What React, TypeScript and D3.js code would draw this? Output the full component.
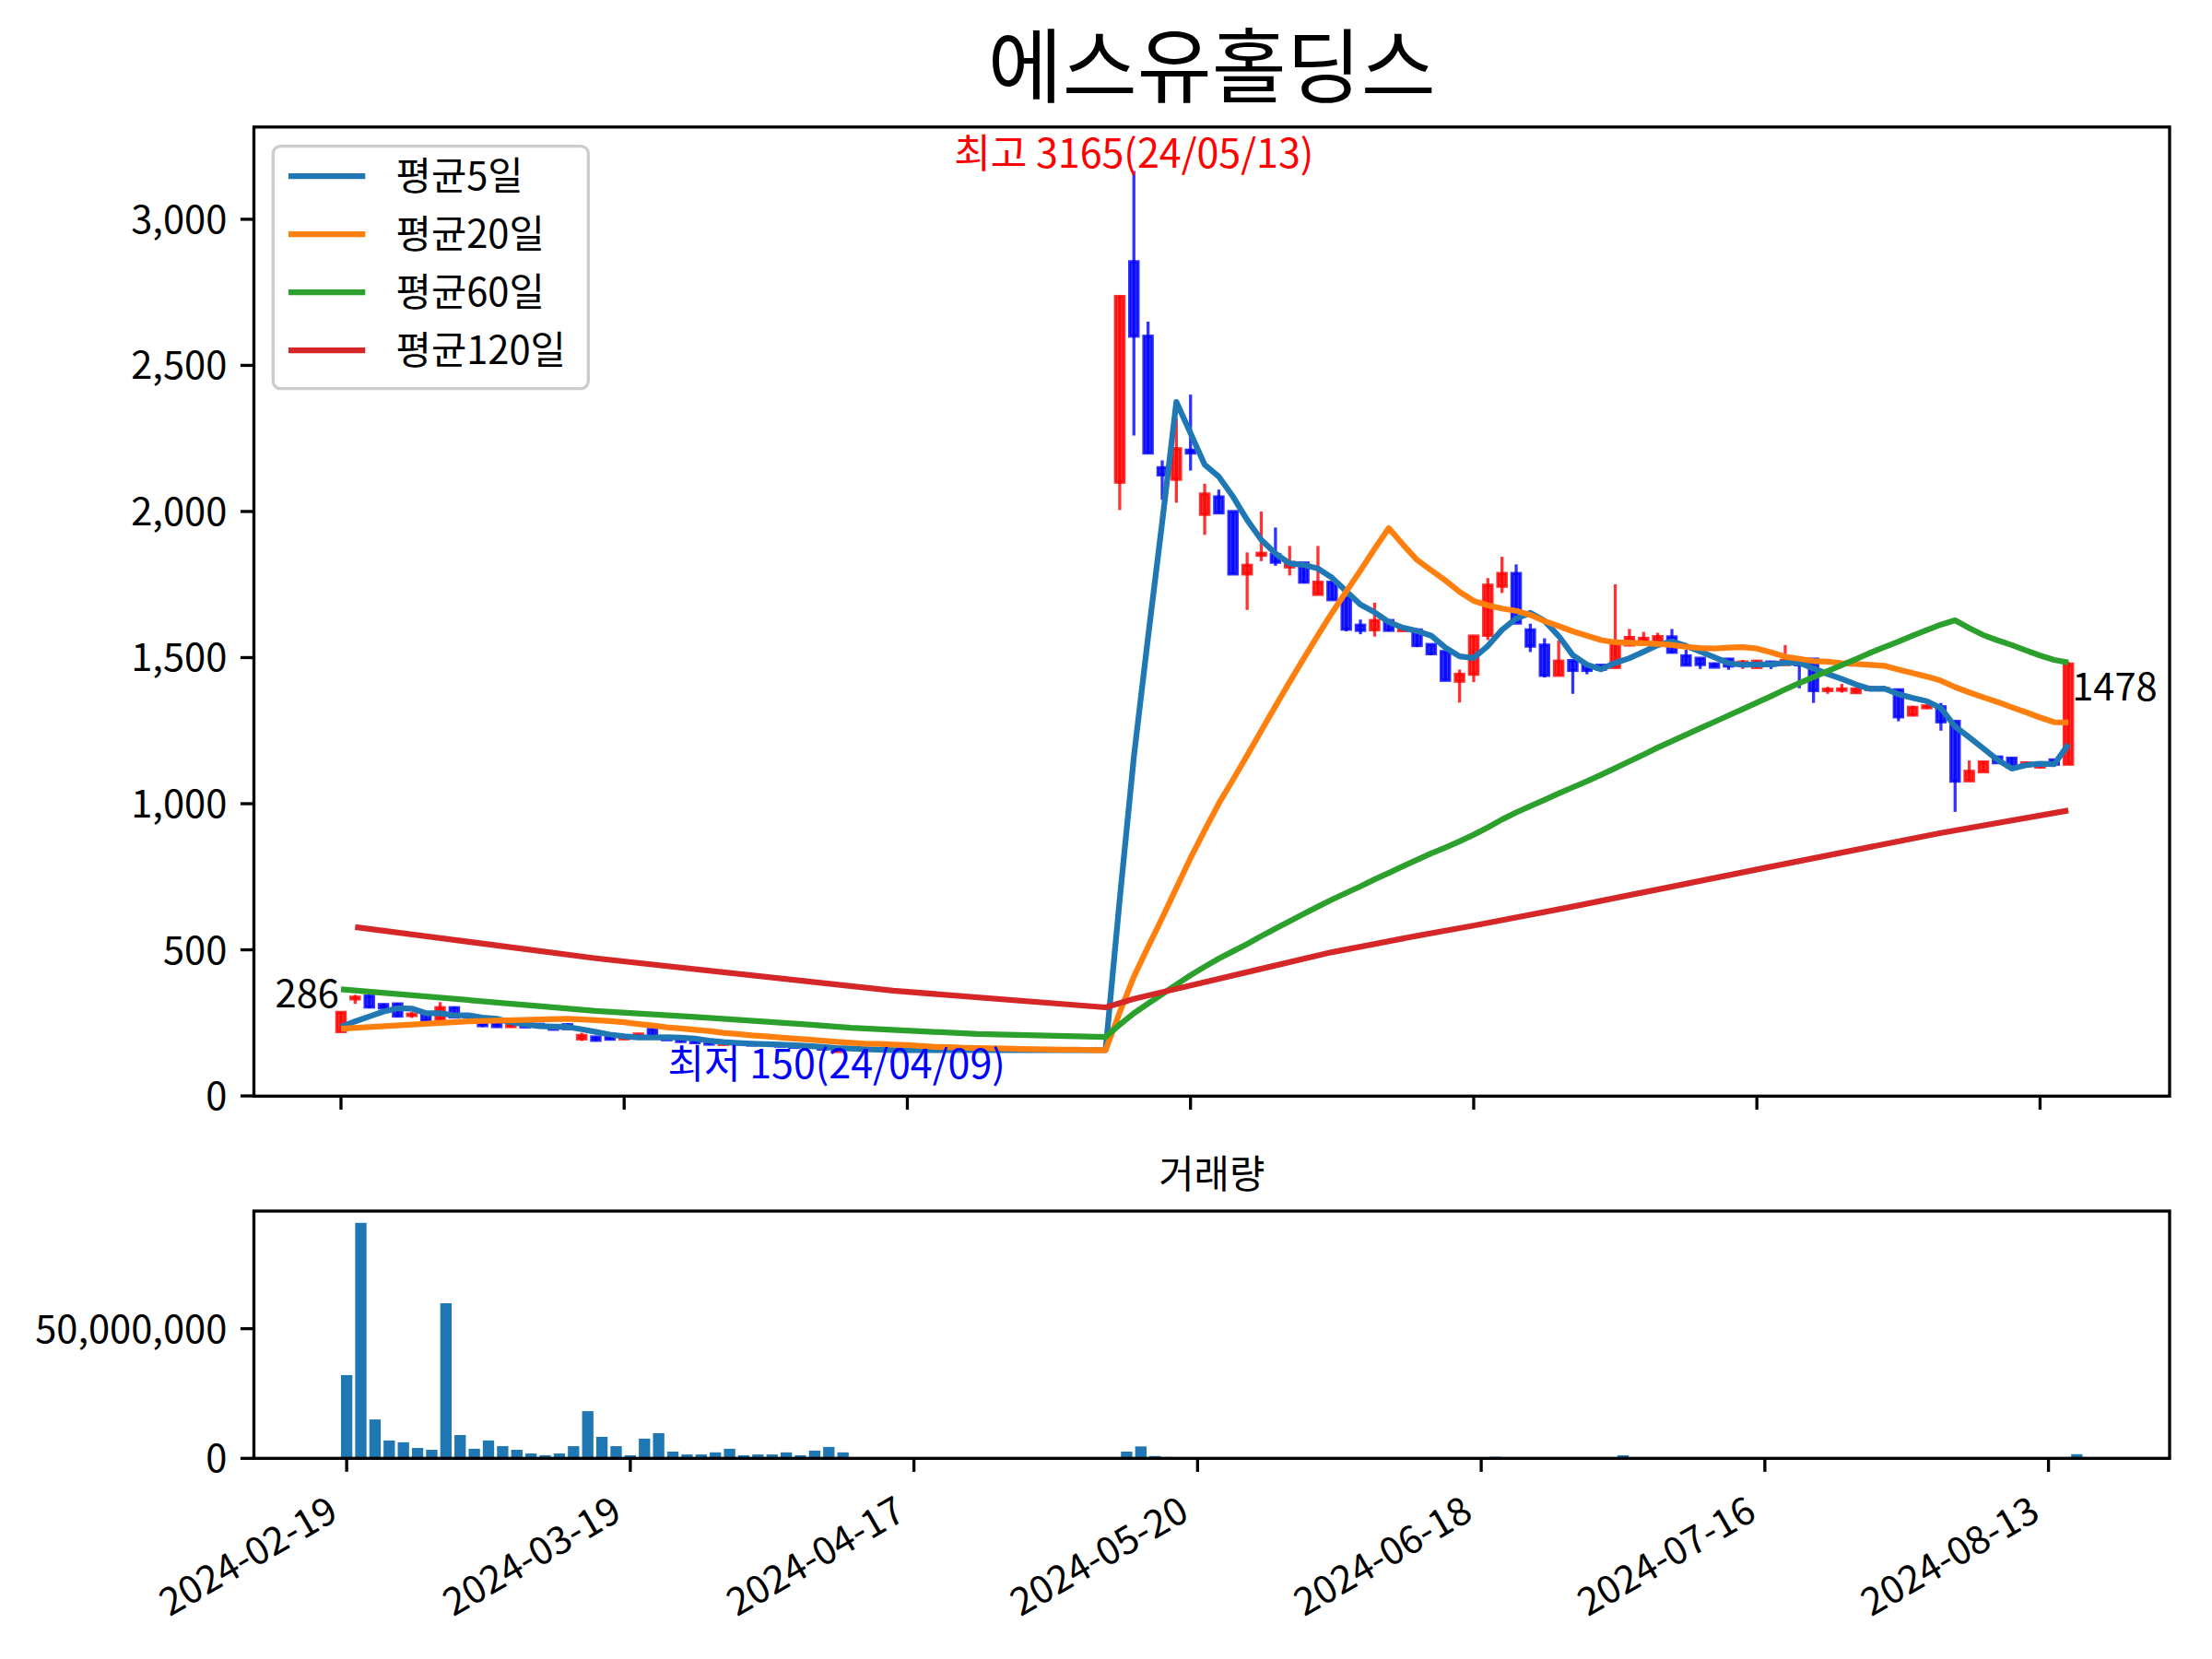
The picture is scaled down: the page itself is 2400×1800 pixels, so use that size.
import React from 'react';
import * as d3 from 'd3';

// ---------------- data ----------------
const chartTitle = '에스유홀딩스';
const volumeTitle = '거래량';
const legendLabels = ['평균5일', '평균20일', '평균60일', '평균120일'];
const maColors = ['#1f77b4', '#ff7f0e', '#2ca02c', '#d62728'];

const xTickIdx = [0, 20, 40, 60, 80, 100, 120];
const xTickLabels = ['2024-02-19', '2024-03-19', '2024-04-17', '2024-05-20', '2024-06-18', '2024-07-16', '2024-08-13'];
const yTicks = [0, 500, 1000, 1500, 2000, 2500, 3000];
const volTicks = [0, 50];

const maxDate = '24/05/13';
const minDate = '24/04/09';

const N = null;
// trading days 0..122 ; 36..54 suspended (no candle)
const openP: (number | null)[] = [
  220, 332, 342, 313, 315, 275, 280, 262, 302, 275,
  248, 248, 237, 248, 245, 239, 244, 195, 202, 202,
  195, 207, 228, 200, 193, 186, 186, 176, 182, 178,
  174, 176, 170, 166, 168, 152, N, N, N, N,
  N, N, N, N, N, N, N, N, N, N,
  N, N, N, N, N, 2100, 2855, 2600, 2150, 2110,
  2210, 1990, 2050, 2000, 1786, 1850, 1853, 1810, 1824, 1716,
  1758, 1706, 1611, 1595, 1627, 1592, 1595, 1545, 1521, 1419,
  1443, 1576, 1744, 1788, 1595, 1543, 1439, 1490, 1474, 1474,
  1466, 1543, 1555, 1555, 1571, 1506, 1498, 1479, 1495, 1477,
  1466, 1485, 1476, 1485, 1495, 1387, 1388, 1380, 1390, 1390,
  1390, 1303, 1328, 1332, 1282, 1078, 1109, 1160, 1156, 1133,
  1125, 1150, 1135,
];
const highP: (number | null)[] = [
  288, 346, 345, 316, 318, 288, 282, 321, 305, 280,
  249, 250, 246, 250, 247, 241, 249, 216, 203, 204,
  203, 214, 231, 202, 195, 188, 188, 185, 184, 180,
  178, 177, 172, 170, 169, 160, N, N, N, N,
  N, N, N, N, N, N, N, N, N, N,
  N, N, N, N, N, 2736, 3165, 2650, 2175, 2320,
  2400, 2095, 2075, 2000, 1860, 2000, 1945, 1882, 1826, 1882,
  1758, 1706, 1630, 1688, 1627, 1602, 1595, 1545, 1521, 1459,
  1574, 1772, 1845, 1819, 1616, 1566, 1558, 1490, 1474, 1474,
  1751, 1598, 1588, 1585, 1598, 1527, 1498, 1482, 1497, 1492,
  1490, 1488, 1543, 1488, 1495, 1400, 1410, 1395, 1404, 1396,
  1392, 1335, 1338, 1345, 1282, 1148, 1145, 1162, 1158, 1145,
  1135, 1152, 1485,
];
const lowP: (number | null)[] = [
  218, 315, 300, 299, 270, 267, 255, 260, 268, 265,
  236, 235, 234, 234, 238, 226, 228, 188, 188, 192,
  193, 205, 205, 190, 184, 180, 175, 174, 176, 172,
  170, 168, 164, 162, 158, 150, N, N, N, N,
  N, N, N, N, N, N, N, N, N, N,
  N, N, N, N, N, 2005, 2260, 2200, 2040, 2030,
  2140, 1920, 1995, 1786, 1663, 1830, 1814, 1781, 1755, 1716,
  1698, 1590, 1580, 1572, 1590, 1590, 1536, 1508, 1422, 1346,
  1416, 1560, 1721, 1618, 1519, 1432, 1439, 1376, 1443, 1456,
  1466, 1540, 1553, 1553, 1515, 1474, 1461, 1467, 1458, 1461,
  1464, 1461, 1474, 1395, 1345, 1376, 1380, 1378, 1388, 1385,
  1282, 1300, 1325, 1250, 972, 1078, 1109, 1140, 1127, 1130,
  1122, 1133, 1135,
];
const closeP: (number | null)[] = [
  286, 338, 304, 301, 273, 280, 257, 302, 270, 270,
  240, 237, 244, 236, 240, 228, 230, 207, 190, 194,
  198, 212, 208, 192, 186, 182, 177, 182, 178, 174,
  176, 170, 166, 168, 160, 157, N, N, N, N,
  N, N, N, N, N, N, N, N, N, N,
  N, N, N, N, N, 2736, 2600, 2200, 2125, 2215,
  2200, 2060, 1995, 1786, 1816, 1857, 1826, 1826, 1758, 1758,
  1698, 1597, 1593, 1627, 1593, 1600, 1541, 1513, 1422, 1443,
  1574, 1748, 1788, 1618, 1539, 1439, 1488, 1456, 1456, 1460,
  1548, 1569, 1566, 1572, 1518, 1474, 1476, 1467, 1471, 1485,
  1488, 1474, 1490, 1475, 1387, 1392, 1393, 1393, 1398, 1394,
  1297, 1330, 1335, 1280, 1077, 1111, 1143, 1140, 1127, 1140,
  1133, 1135, 1478,
];
// volume in millions of shares
const volumeM: number[] = [
  32.1, 90.8, 15.0, 6.9, 6.2, 4.0, 3.3, 59.8, 9.0, 3.7,
  6.9, 4.7, 3.3, 1.9, 1.2, 1.9, 4.7, 18.2, 8.3, 4.7,
  1.2, 7.6, 9.7, 2.6, 1.5, 1.5, 2.3, 3.7, 1.2, 1.5,
  1.5, 2.3, 1.2, 3.0, 4.4, 2.3, 0, 0, 0, 0,
  0, 0, 0, 0, 0, 0, 0, 0, 0, 0,
  0, 0, 0, 0, 0, 2.6, 4.6, 0.9, 0.5, 0.4,
  0.4, 0.3, 0.2, 0.3, 0.2, 0.2, 0.2, 0.1, 0.1, 0.1,
  0.1, 0.2, 0.1, 0.1, 0.1, 0.1, 0.1, 0.1, 0.2, 0.2,
  0.3, 0.6, 0.4, 0.3, 0.2, 0.2, 0.2, 0.1, 0.1, 0.1,
  1.2, 0.3, 0.2, 0.1, 0.2, 0.1, 0.1, 0.1, 0.1, 0.1,
  0.1, 0.1, 0.2, 0.1, 0.2, 0.1, 0.1, 0.1, 0.1, 0.1,
  0.2, 0.1, 0.1, 0.2, 0.4, 0.2, 0.1, 0.1, 0.1, 0.1,
  0.1, 0.2, 1.6,
];

const ma5: (number | null)[] = [
  236, 255, 272, 289, 300, 299, 283, 283, 276, 276,
  268, 264, 252, 245, 239, 237, 236, 228, 219, 210,
  204, 200, 200, 201, 199, 196, 189, 184, 181, 179,
  177, 176, 173, 171, 168, 164, 162, 160, 158, 157,
  157, 157, 157, 157, 157, 157, 157, 157, 157, 157,
  157, 157, 157, 157, 157, 673, 1161, 1570, 1964, 2375,
  2268, 2160, 2119, 2051, 1971, 1903, 1856, 1822, 1817, 1805,
  1773, 1727, 1681, 1655, 1622, 1602, 1591, 1575, 1534, 1504,
  1499, 1540, 1595, 1634, 1653, 1626, 1574, 1508, 1476, 1460,
  1482, 1498, 1520, 1543, 1555, 1540, 1521, 1501, 1481, 1475,
  1477, 1477, 1482, 1482, 1463, 1444, 1427, 1408, 1393, 1394,
  1375, 1362, 1351, 1327, 1264, 1227, 1189, 1150, 1120, 1132,
  1137, 1135, 1203,
];
const ma20: (number | null)[] = [
  230, N, N, N, N, N, N, N, N, 255,
  N, N, N, N, N, N, 264, N, 259, 256,
  252, 246, 241, 235, 231, 226, 222, 216, 212, 207,
  204, 200, 196, 193, 189, 185, 182, 179, 178, 176,
  174, 171, 168, 167, 165, 164, 163, 162, 161, 160,
  159, 158, 158, 157, 157, 286, 408, 510, 609, 712,
  814, 909, 1001, 1082, 1165, 1250, 1334, 1417, 1497, 1577,
  1654, 1726, 1798, 1872, 1943, 1887, 1834, 1799, 1764, 1725,
  1694, 1679, 1668, 1660, 1646, 1625, 1608, 1590, 1575, 1560,
  1552, 1551, 1549, 1547, 1543, 1537, 1533, 1531, 1534, 1536,
  1531, 1518, 1503, 1496, 1488, 1486, 1481, 1478, 1475, 1472,
  1459, 1447, 1435, 1421, 1399, 1381, 1364, 1348, 1330, 1313,
  1295, 1279, 1278,
];
const ma60: (number | null)[] = [
  365, N, N, N, N, N, N, N, N, N,
  N, N, N, N, N, N, N, N, 291, N,
  N, N, N, N, N, 270, N, N, N, N,
  N, N, N, 244, N, N, 233, N, N, N,
  N, N, N, N, N, 212, N, N, N, N,
  N, N, N, N, 202, 244, 283, 316, 348, 381,
  413, 442, 470, 495, 520, 547, 573, 598, 623, 648,
  672, 695, 717, 741, 763, 786, 808, 830, 850, 871,
  894, 919, 946, 970, 992, 1013, 1035, 1056, 1077, 1099,
  1122, 1145, 1168, 1192, 1214, 1236, 1258, 1280, 1302, 1324,
  1346, 1368, 1391, 1413, 1433, 1454, 1474, 1495, 1516, 1536,
  1555, 1575, 1594, 1613, 1628, 1601, 1577, 1559, 1543, 1525,
  1507, 1492, 1483,
];
const ma120: (number | null)[] = [
  N, 578, N, N, N, N, N, N, N, N,
  N, N, N, N, N, N, N, N, 471, N,
  N, N, N, N, N, N, N, N, N, N,
  N, N, N, N, N, N, N, N, N, 360,
  N, N, N, N, N, N, N, N, N, N,
  N, N, N, N, 303, N, 332, N, N, N,
  378, N, N, N, N, 435, N, N, N, N,
  492, N, N, N, N, N, 548, N, N, N,
  583, N, N, N, N, N, N, 648, N, N,
  N, N, N, N, N, N, N, N, N, N,
  775, N, N, N, N, N, N, N, N, N,
  N, N, N, 900, N, N, N, N, N, N,
  N, N, 977,
];
const maSeries = [ma5, ma20, ma60, ma120];

// ---------------- drawing ----------------
const FONT = "'Noto Sans CJK KR', 'Noto Sans', 'DejaVu Sans', sans-serif";
const FS = 41.67;
const SPINE = 3.33;
const TICK = 14.6;
const PAD = 14.6;

export default function App() {
  const n = closeP.length;
  const mainL = 275.5, mainR = 2354, mainT = 137.8, mainB = 1189.3;
  const volT = 1314, volB = 1582.3;

  const lows = lowP.filter((v) => v != null) as number[];
  const highs = highP.filter((v) => v != null) as number[];
  const lo = d3.min(lows)!;
  const hi = d3.max(highs)!;
  const span = hi - lo;

  const x = d3.scaleLinear().domain([-0.05 * n, n + 0.05 * n]).range([mainL, mainR]);
  const y = d3.scaleLinear().domain([lo - 0.05 * span, hi + 0.05 * span]).range([mainB, mainT]);
  const vSpan = (n - 1) + 0.8;
  const xv = d3.scaleLinear().domain([-0.4 - 0.05 * vSpan, n - 1 + 0.4 + 0.05 * vSpan]).range([mainL, mainR]);
  const yv = d3.scaleLinear().domain([0, d3.max(volumeM)! * 1.05]).range([volB, volT]);

  const pxPerIdx = x(1) - x(0);
  const bodyW = 0.6 * pxPerIdx;
  const volW = 0.8 * (xv(1) - xv(0));

  const maxIdx = highP.indexOf(hi);
  const minIdx = lowP.indexOf(lo);
  const fmt = d3.format(',');

  const line = d3
    .line<[number, number]>()
    .x((d) => x(d[0]))
    .y((d) => y(d[1]));

  const candles = closeP.map((c, i) => {
    const o = openP[i], h = highP[i], l = lowP[i];
    if (c == null || o == null || h == null || l == null) return null;
    const up = c >= o;
    const col = up ? '#ff0000' : '#0000ff';
    const top = y(Math.max(o, c));
    const bot = y(Math.min(o, c));
    return (
      <g key={i}>
        <line x1={x(i)} x2={x(i)} y1={y(h)} y2={y(l)} stroke={col} strokeOpacity={0.8} strokeWidth={3.3} />
        <rect
          x={x(i) - bodyW / 2}
          y={top}
          width={bodyW}
          height={Math.max(bot - top, 0.3)}
          fill={col}
          fillOpacity={0.8}
          stroke={col}
          strokeOpacity={0.8}
          strokeWidth={3.3}
        />
      </g>
    );
  });

  const maPaths = maSeries.map((arr, k) => {
    const pts = arr
      .map((v, i) => (v == null ? null : ([i, v] as [number, number])))
      .filter((p): p is [number, number] => p != null);
    return (
      <path key={k} d={line(pts) || ''} fill="none" stroke={maColors[k]} strokeWidth={6.25} strokeLinejoin="round" strokeLinecap="butt" />
    );
  });

  const legendX = mainL + 20.8, legendY = mainT + 20.8;
  const legendW = 342, legendH = 263;
  const rowY = [191, 254, 317, 380];

  return (
    <svg
      width={2400}
      height={1800}
      viewBox="0 0 2400 1800"
      style={{ position: 'absolute', left: 0, top: 0, background: '#fff' }}
      fontFamily={FONT}
    >
      <rect x={0} y={0} width={2400} height={1800} fill="#fff" />
      {/* title */}
      <text x={(mainL + mainR) / 2} y={104} fontSize={88} textAnchor="middle" fill="#000">
        {chartTitle}
      </text>

      {/* main axes content */}
      <g>{candles}</g>
      <g>{maPaths}</g>

      {/* annotations */}
      <text x={x(maxIdx)} y={y(hi) - 4} fontSize={43} textAnchor="middle" fill="#ff0000">
        {`최고 ${hi}(${maxDate})`}
      </text>
      <text x={x(minIdx)} y={y(lo) + 28} fontSize={43} textAnchor="middle" fill="#0000ff">
        {`최저 ${lo}(${minDate})`}
      </text>
      <text x={x(0) - 2} y={y(closeP[0] as number) - 5} fontSize={FS} textAnchor="end" fill="#000">
        {String(closeP[0])}
      </text>
      <text x={x(n - 1) + 4} y={y(closeP[n - 1] as number) + 40} fontSize={FS} textAnchor="start" fill="#000">
        {String(closeP[n - 1])}
      </text>

      {/* main spines */}
      <rect x={mainL} y={mainT} width={mainR - mainL} height={mainB - mainT} fill="none" stroke="#000" strokeWidth={SPINE} />
      {/* main y ticks */}
      {yTicks.map((t) => (
        <g key={'yt' + t}>
          <line x1={mainL - TICK} x2={mainL} y1={y(t)} y2={y(t)} stroke="#000" strokeWidth={SPINE} />
          <text x={mainL - TICK - PAD} y={y(t) + 15} fontSize={FS} textAnchor="end" fill="#000">
            {fmt(t)}
          </text>
        </g>
      ))}
      {/* main x ticks (no labels) */}
      {xTickIdx.map((t) => (
        <line key={'xt' + t} x1={x(t)} x2={x(t)} y1={mainB} y2={mainB + TICK} stroke="#000" strokeWidth={SPINE} />
      ))}

      {/* legend */}
      <g>
        <rect
          x={legendX}
          y={legendY}
          width={legendW}
          height={legendH}
          rx={8}
          ry={8}
          fill="#fff"
          fillOpacity={0.8}
          stroke="#cccccc"
          strokeWidth={SPINE}
        />
        {legendLabels.map((lab, k) => (
          <g key={lab}>
            <line x1={legendX + 16.7} x2={legendX + 16.7 + 83.3} y1={rowY[k]} y2={rowY[k]} stroke={maColors[k]} strokeWidth={6.25} />
            <text x={legendX + 16.7 + 83.3 + 33.3} y={rowY[k] + 15} fontSize={FS} fill="#000">
              {lab}
            </text>
          </g>
        ))}
      </g>

      {/* volume panel */}
      <text x={(mainL + mainR) / 2} y={volT - 25} fontSize={FS} textAnchor="middle" fill="#000">
        {volumeTitle}
      </text>
      <g>
        {volumeM.map((v, i) =>
          v > 0 ? <rect key={'v' + i} x={xv(i) - volW / 2} y={yv(v)} width={volW} height={volB - yv(v)} fill="#1f77b4" /> : null
        )}
      </g>
      <rect x={mainL} y={volT} width={mainR - mainL} height={volB - volT} fill="none" stroke="#000" strokeWidth={SPINE} />
      {volTicks.map((t) => (
        <g key={'vt' + t}>
          <line x1={mainL - TICK} x2={mainL} y1={yv(t)} y2={yv(t)} stroke="#000" strokeWidth={SPINE} />
          <text x={mainL - TICK - PAD} y={yv(t) + 15} fontSize={FS} textAnchor="end" fill="#000">
            {fmt(t * 1000000)}
          </text>
        </g>
      ))}
      {xTickIdx.map((t, k) => (
        <g key={'vx' + t}>
          <line x1={xv(t)} x2={xv(t)} y1={volB} y2={volB + TICK} stroke="#000" strokeWidth={SPINE} />
          <text
            transform={`translate(${xv(t) - 7},${volB + TICK + PAD + 36}) rotate(-30)`}
            fontSize={FS}
            textAnchor="end"
            fill="#000"
          >
            {xTickLabels[k]}
          </text>
        </g>
      ))}
    </svg>
  );
}
